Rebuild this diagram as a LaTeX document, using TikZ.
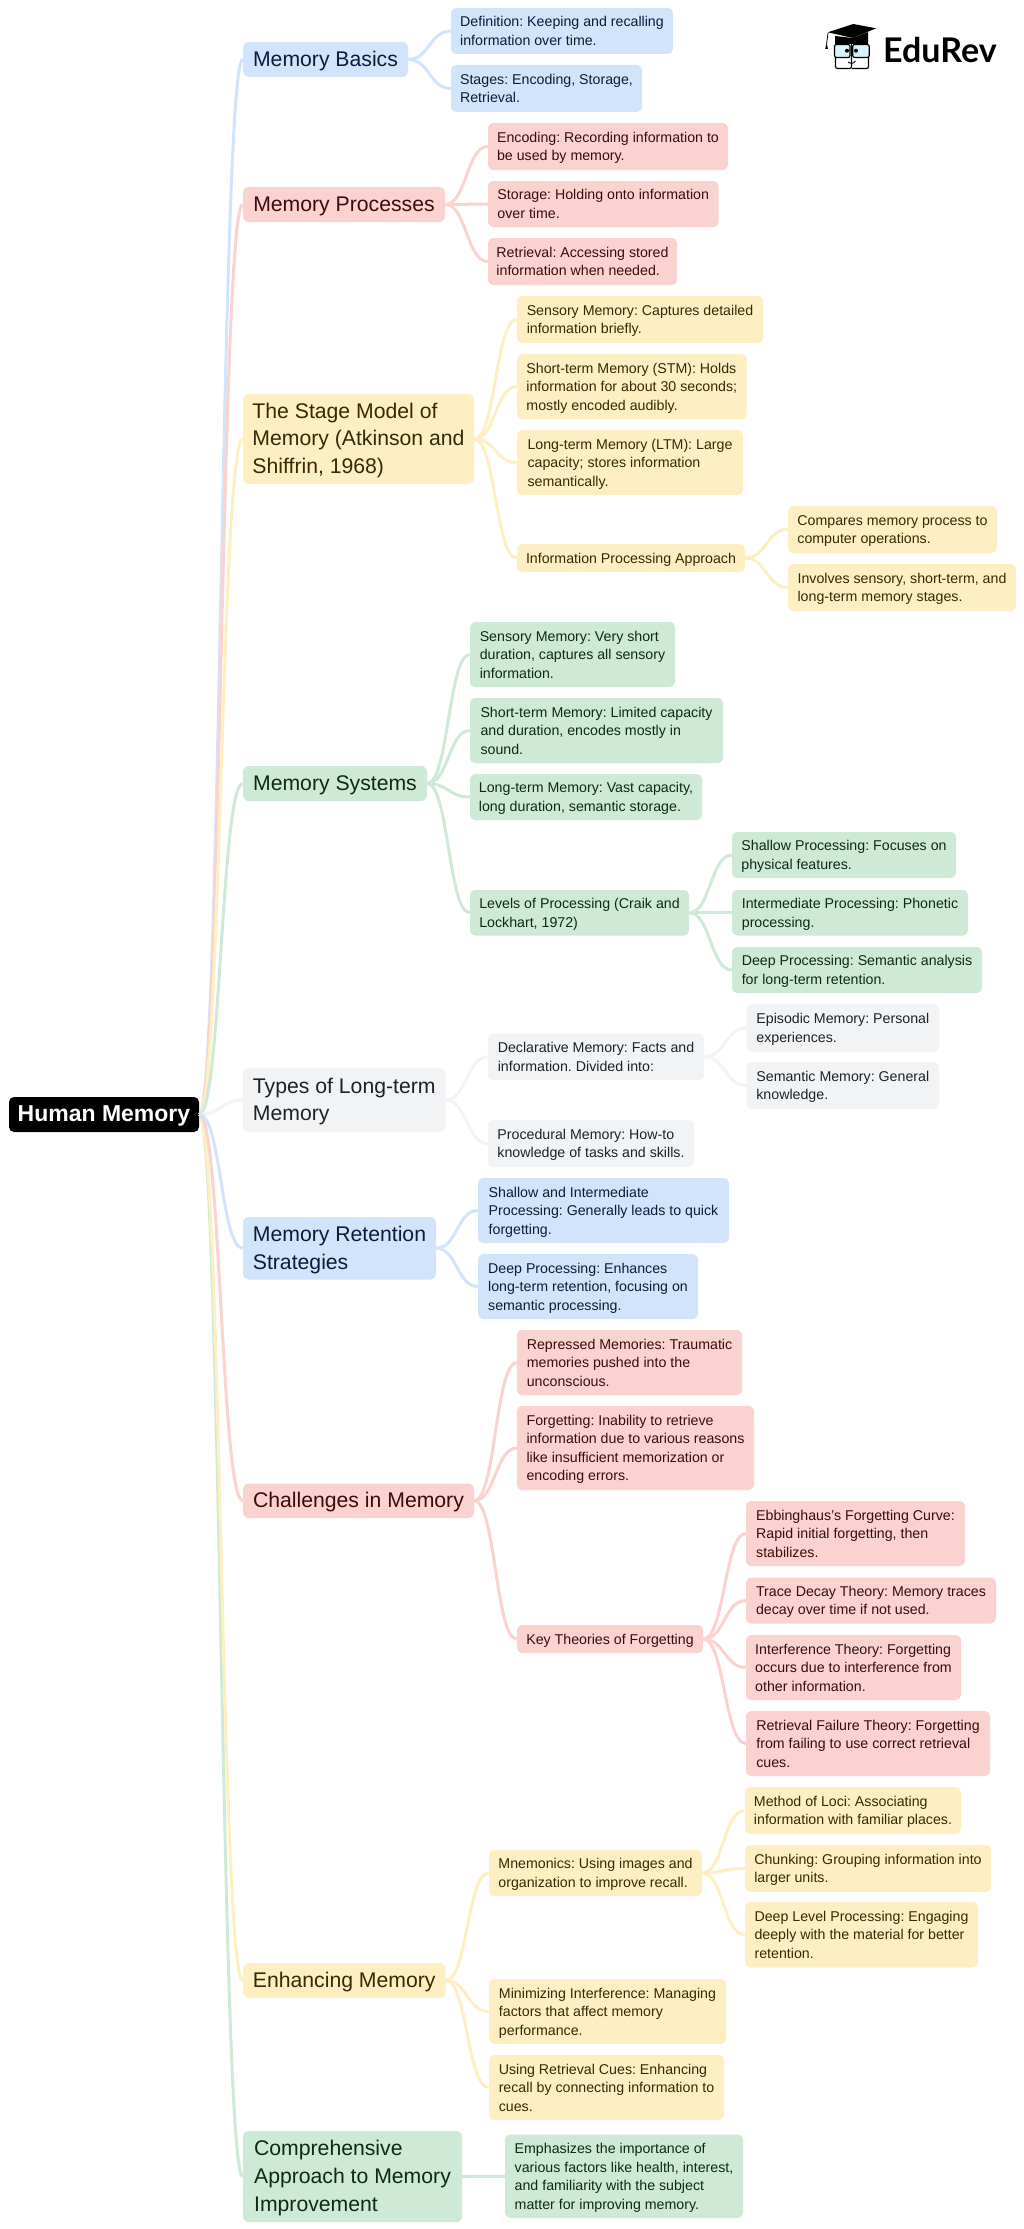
\documentclass[tikz,border=0pt]{standalone}
\usepackage{fontspec}
\setmainfont{Liberation Sans}
\newfontfamily\logofont{Lato}
\usetikzlibrary{calc}
\frenchspacing
\definecolor{cb}{HTML}{D2E3FC}\definecolor{cr}{HTML}{FAD2CF}\definecolor{cy}{HTML}{FEEFC3}\definecolor{cg}{HTML}{CEEAD6}\definecolor{cn}{HTML}{F1F3F4}
\definecolor{tb}{HTML}{0A1C3C}\definecolor{tr}{HTML}{3A0D0A}\definecolor{ty}{HTML}{352A05}\definecolor{tg}{HTML}{0C2A16}\definecolor{tn}{HTML}{202124}
\tikzset{
 box/.style={rectangle,rounded corners=5pt,inner sep=0pt,font=\fontsize{14.2}{18.5}\selectfont},
 big/.style={box,rounded corners=6pt,font=\fontsize{21.2}{27.9}\selectfont},
 root/.style={box,fill=black,text=white,font=\fontsize{23}{26}\selectfont\bfseries},
 nb/.style={fill=cb,text=tb},nr/.style={fill=cr,text=tr},ny/.style={fill=cy,text=ty},ng/.style={fill=cg,text=tg},nn/.style={fill=cn,text=tn},
 link/.style={line width=3pt,draw=#1}
}
\newcommand\mmbox[7]{%
 \pgfmathsetmacro\mmcx{(#3+#5)/2}\pgfmathsetmacro\mmcy{-(#4+#6)/2}%
 \pgfmathsetmacro\mmw{#5-#3}\pgfmathsetmacro\mmh{#6-#4}%
 \node[#1,minimum width=\mmw pt,minimum height=\mmh pt] (#2) at (\mmcx,\mmcy) {\raisebox{-1.4pt}[\height][\depth]{\begin{tabular}{@{}l@{}}#7\end{tabular}}};}
\newcommand\mmlink[3]{%
 \draw[link=#1] let \p1=(#2.east),\p2=(#3.west) in (\p1) .. controls ({0.5*\x1+0.5*\x2},\y1) and ({0.5*\x1+0.5*\x2},\y2) .. (\p2);}
\begin{document}
\begin{tikzpicture}[x=1pt,y=1pt]
\useasboundingbox (0,0) rectangle (1024,-2229);
\fill[white] (0,0) rectangle (1024,-2229);
% root
\mmbox{root}{R}{9}{1097}{199}{1132}{Human Memory}
% Basics
\mmbox{big,nb}{A}{243}{42}{408}{77}{Memory Basics}
\mmbox{box,nb}{A1}{451}{8}{673}{54}{Definition: Keeping and recalling\\information over time.}
\mmbox{box,nb}{A2}{451}{65}{642}{112}{Stages: Encoding, Storage,\\Retrieval.}
% Processes
\mmbox{big,nr}{B}{243}{187}{445}{222}{Memory Processes}
\mmbox{box,nr}{B1}{488}{123}{728}{170}{Encoding: Recording information to\\be used by memory.}
\mmbox{box,nr}{B2}{488}{181}{718.5}{227}{Storage: Holding onto information\\over time.}
\mmbox{box,nr}{B3}{488}{238}{677}{285}{Retrieval: Accessing stored\\information when needed.}
% Stage model
\mmbox{big,ny}{C}{243}{394}{474}{484}{The Stage Model of\\Memory (Atkinson and\\Shiffrin, 1968)}
\mmbox{box,ny}{C1}{517}{296}{763}{343}{Sensory Memory: Captures detailed\\information briefly.}
\mmbox{box,ny}{C2}{517}{354}{746.6}{419}{Short-term Memory (STM): Holds\\information for about 30 seconds;\\mostly encoded audibly.}
\mmbox{box,ny}{C3}{517}{430}{743}{495}{Long-term Memory (LTM): Large\\capacity; stores information\\semantically.}
\mmbox{box,ny}{C4}{517}{544}{745}{572}{Information Processing Approach}
\mmbox{box,ny}{C41}{788}{506}{997}{553}{Compares memory process to\\computer operations.}
\mmbox{box,ny}{C42}{788}{564}{1016}{611}{Involves sensory, short-term, and\\long-term memory stages.}
% Systems
\mmbox{big,ng}{D}{243}{766}{427}{801}{Memory Systems}
\mmbox{box,ng}{D1}{470}{622}{675}{687}{Sensory Memory: Very short\\duration, captures all sensory\\information.}
\mmbox{box,ng}{D2}{470}{698}{723}{763}{Short-term Memory: Limited capacity\\and duration, encodes mostly in\\sound.}
\mmbox{box,ng}{D3}{470}{774}{702}{820}{Long-term Memory: Vast capacity,\\long duration, semantic storage.}
\mmbox{box,ng}{D4}{470}{890}{689}{935.5}{Levels of Processing (Craik and\\Lockhart, 1972)}
\mmbox{box,ng}{D41}{732}{832}{956}{878}{Shallow Processing: Focuses on\\physical features.}
\mmbox{box,ng}{D42}{732}{890}{968}{935.5}{Intermediate Processing: Phonetic\\processing.}
\mmbox{box,ng}{D43}{732}{947}{982}{993}{Deep Processing: Semantic analysis\\for long-term retention.}
% Types
\mmbox{big,nn}{E}{243}{1068}{445.5}{1132}{Types of Long-term\\Memory}
\mmbox{box,nn}{E1}{488}{1033.5}{704}{1080}{Declarative Memory: Facts and\\information. Divided into:}
\mmbox{box,nn}{E11}{746.6}{1004}{939}{1052}{Episodic Memory: Personal\\experiences.}
\mmbox{box,nn}{E12}{746.6}{1062}{939}{1109}{Semantic Memory: General\\knowledge.}
\mmbox{box,nn}{E2}{488}{1120}{694}{1167}{Procedural Memory: How-to\\knowledge of tasks and skills.}
% Retention
\mmbox{big,nb}{F}{243}{1217}{436}{1279.5}{Memory Retention\\Strategies}
\mmbox{box,nb}{F1}{478}{1178}{729}{1243}{Shallow and Intermediate\\Processing: Generally leads to quick\\forgetting.}
\mmbox{box,nb}{F2}{478}{1254}{698}{1319}{Deep Processing: Enhances\\long-term retention, focusing on\\semantic processing.}
% Challenges
\mmbox{big,nr}{G}{243}{1483.5}{474}{1518}{Challenges in Memory}
\mmbox{box,nr}{G1}{517}{1330}{742}{1395}{Repressed Memories: Traumatic\\memories pushed into the\\unconscious.}
\mmbox{box,nr}{G2}{517}{1406}{754}{1490}{Forgetting: Inability to retrieve\\information due to various reasons\\like insufficient memorization or\\encoding errors.}
\mmbox{box,nr}{G3}{517}{1625}{703}{1653}{Key Theories of Forgetting}
\mmbox{box,nr}{G31}{746}{1501}{965}{1566}{Ebbinghaus's Forgetting Curve:\\Rapid initial forgetting, then\\stabilizes.}
\mmbox{box,nr}{G32}{746}{1577.6}{996}{1623.5}{Trace Decay Theory: Memory traces\\decay over time if not used.}
\mmbox{box,nr}{G33}{746}{1635}{961}{1700}{Interference Theory: Forgetting\\occurs due to interference from\\other information.}
\mmbox{box,nr}{G34}{746}{1711}{990}{1776}{Retrieval Failure Theory: Forgetting\\from failing to use correct retrieval\\cues.}
% Enhancing
\mmbox{big,ny}{H}{243}{1963}{445.5}{1998}{Enhancing Memory}
\mmbox{box,ny}{H1}{489}{1850}{702}{1896}{Mnemonics: Using images and\\organization to improve recall.}
\mmbox{box,ny}{H11}{745}{1787}{961}{1834}{Method of Loci: Associating\\information with familiar places.}
\mmbox{box,ny}{H12}{745}{1845}{991}{1892}{Chunking: Grouping information into\\larger units.}
\mmbox{box,ny}{H13}{745}{1902}{978}{1967.5}{Deep Level Processing: Engaging\\deeply with the material for better\\retention.}
\mmbox{box,ny}{H2}{489}{1979}{726}{2044}{Minimizing Interference: Managing\\factors that affect memory\\performance.}
\mmbox{box,ny}{H3}{489}{2055}{724}{2120}{Using Retrieval Cues: Enhancing\\recall by connecting information to\\cues.}
% Comprehensive
\mmbox{big,ng}{J}{243}{2131}{462}{2222}{Comprehensive\\Approach to Memory\\Improvement}
\mmbox{box,ng}{J1}{505}{2134.5}{743}{2218}{Emphasizes the importance of\\various factors like health, interest,\\and familiarity with the subject\\matter for improving memory.}
% links from the root
\mmlink{cb}{R}{A}\mmlink{cr}{R}{B}\mmlink{cy}{R}{C}\mmlink{cg}{R}{D}\mmlink{cn}{R}{E}
\mmlink{cg}{R}{J}\mmlink{cy}{R}{H}\mmlink{cr}{R}{G}\mmlink{cb}{R}{F}
% links in branches
\mmlink{cb}{A}{A1}\mmlink{cb}{A}{A2}
\mmlink{cr}{B}{B1}\mmlink{cr}{B}{B2}\mmlink{cr}{B}{B3}
\mmlink{cy}{C}{C1}\mmlink{cy}{C}{C2}\mmlink{cy}{C}{C3}\mmlink{cy}{C}{C4}\mmlink{cy}{C4}{C41}\mmlink{cy}{C4}{C42}
\mmlink{cg}{D}{D1}\mmlink{cg}{D}{D2}\mmlink{cg}{D}{D3}\mmlink{cg}{D}{D4}\mmlink{cg}{D4}{D41}\mmlink{cg}{D4}{D42}\mmlink{cg}{D4}{D43}
\mmlink{cn}{E}{E1}\mmlink{cn}{E}{E2}\mmlink{cn}{E1}{E11}\mmlink{cn}{E1}{E12}
\mmlink{cb}{F}{F1}\mmlink{cb}{F}{F2}
\mmlink{cr}{G}{G1}\mmlink{cr}{G}{G2}\mmlink{cr}{G}{G3}\mmlink{cr}{G3}{G31}\mmlink{cr}{G3}{G32}\mmlink{cr}{G3}{G33}\mmlink{cr}{G3}{G34}
\mmlink{cy}{H}{H1}\mmlink{cy}{H}{H2}\mmlink{cy}{H}{H3}\mmlink{cy}{H1}{H11}\mmlink{cy}{H1}{H12}\mmlink{cy}{H1}{H13}
\mmlink{cg}{J}{J1}
% logo
\fill[black] (827.7,-32.3) -- (853.3,-24) -- (876,-28.3) -- (853,-38) -- cycle;
\fill[black] (835,-36) -- (853,-38) -- (868,-32) -- (868,-44) -- (835,-44) -- cycle;
\draw[black,line width=.8pt] (828,-33) -- (826.6,-44);
\fill[black] (826.6,-43) -- (825.2,-49) -- (828,-49) -- cycle;
\draw[black,line width=1.2pt,fill=cyan!15,rounded corners=2pt] (834.5,-44.5) rectangle (850,-57.5);
\draw[black,line width=1.2pt,fill=cyan!15,rounded corners=2pt] (852.7,-44.5) rectangle (869.2,-57.5);
\fill[black] (847,-50.7) circle (2pt) (856,-50.7) circle (2pt);
\draw[black,line width=1.2pt,rounded corners=2pt] (835.5,-57.5) -- (835.5,-68.5) -- (851.5,-68.5) -- (851.5,-44);
\draw[black,line width=1.2pt,rounded corners=2pt] (851.5,-68.5) -- (868.5,-68.5) -- (868.5,-57.5);
\draw[black,line width=.9pt] (848,-62) .. controls (851,-64) and (853,-64) .. (855.5,-61);
\node[anchor=base west,inner sep=0pt,font=\logofont\bfseries\fontsize{34}{34}\selectfont,text=black] (logo) at (883,-62.5) {EduRev};
\end{tikzpicture}
\end{document}
